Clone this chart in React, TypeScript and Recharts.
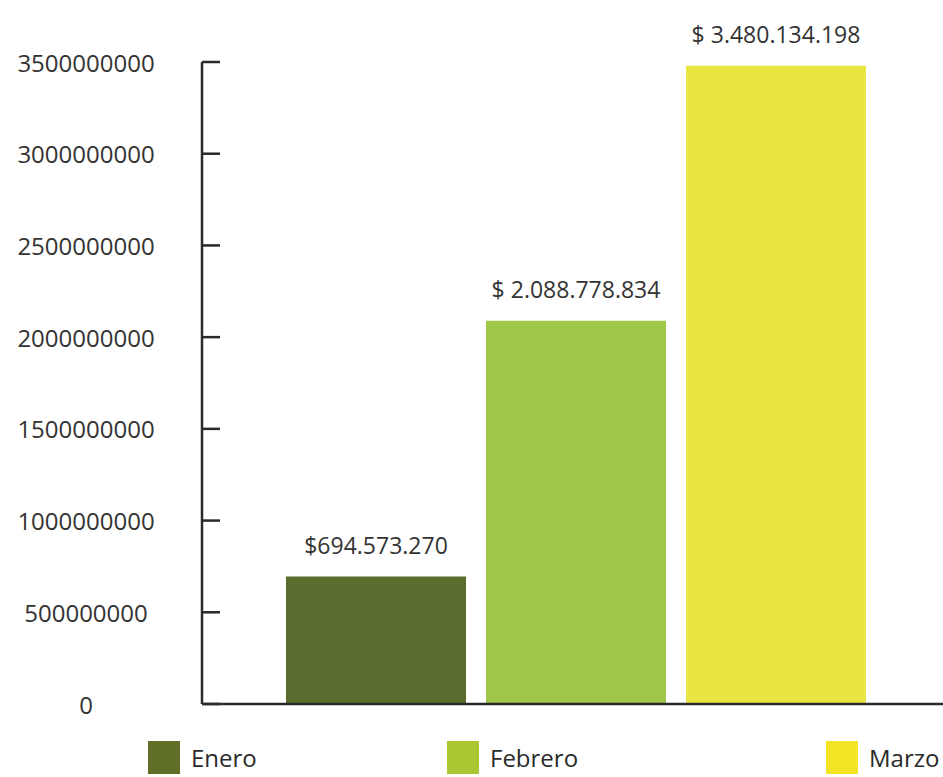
import React from 'react'
import { BarChart, Bar, XAxis, YAxis, Cell, LabelList, ReferenceLine } from 'recharts'

const months = ['Enero', 'Febrero', 'Marzo']
const amounts = [694573270, 2088778834, 3480134198]
const amountLabels = ['$694.573.270', '$ 2.088.778.834', '$ 3.480.134.198']
const yTicks = [0, 500000000, 1000000000, 1500000000, 2000000000, 2500000000, 3000000000, 3500000000]

const BAR_COLORS = ['#5B6C2F', '#A0C64A', '#E8E540']
const LEGEND_COLORS = ['#5F6F27', '#AAC731', '#F3E426']
const LEGEND_LEFT = [148, 447, 826]

const FONT = '"Open Sans", "Noto Sans", sans-serif'
const INK = '#2a2a2a'

const data = months.map((m, i) => ({ name: m, value: amounts[i], label: amountLabels[i] }))

function YTick(props: any) {
  const { x, y, payload } = props
  return (
    <g>
      <line x1={x} y1={y} x2={x + 18} y2={y} stroke={INK} strokeWidth={2.5} />
      <text
        x={86}
        y={y}
        textAnchor="middle"
        dominantBaseline="central"
        fill="#333"
        fontSize={24}
        fontFamily={FONT}
      >
        {String(payload.value)}
      </text>
    </g>
  )
}

function TopLabel(props: any) {
  const { x, y, width, value } = props
  return (
    <text
      x={x + width / 2}
      y={y - 32}
      textAnchor="middle"
      dominantBaseline="central"
      fill="#333"
      fontSize={23}
      fontFamily={FONT}
    >
      {value}
    </text>
  )
}

export default function App() {
  return (
    <div
      style={{
        position: 'absolute',
        left: 0,
        top: 0,
        width: 943,
        height: 777,
        background: '#fff',
        fontFamily: FONT,
      }}
    >
      <BarChart
        width={943}
        height={777}
        data={data}
        margin={{ top: 62, right: 0, bottom: 72, left: 0 }}
      >
        <XAxis
          dataKey="name"
          tick={false}
          tickLine={false}
          height={1}
          padding={{ left: 74, right: 67 }}
          axisLine={false}
        />
        <YAxis
          width={202}
          domain={[0, 3500000000]}
          ticks={yTicks}
          interval={0}
          tickSize={0}
          tickMargin={0}
          tickLine={false}
          tick={<YTick />}
          axisLine={{ stroke: INK, strokeWidth: 2.5 }}
        />
        <Bar dataKey="value" barSize={180} isAnimationActive={false}>
          {data.map((d, i) => (
            <Cell key={d.name} fill={BAR_COLORS[i]} />
          ))}
          <LabelList dataKey="label" content={<TopLabel />} />
        </Bar>
        {/* baseline across the whole plot, like the original's x axis */}
        <ReferenceLine y={0} stroke={INK} strokeWidth={2.5} />
      </BarChart>
      {months.map((m, i) => (
        <div
          key={m}
          style={{
            position: 'absolute',
            left: LEGEND_LEFT[i],
            top: 741,
            display: 'flex',
            alignItems: 'center',
            gap: 11,
          }}
        >
          <div style={{ width: 32, height: 33, background: LEGEND_COLORS[i] }} />
          <span style={{ fontSize: 24, color: INK, lineHeight: '33px' }}>{m}</span>
        </div>
      ))}
    </div>
  )
}
